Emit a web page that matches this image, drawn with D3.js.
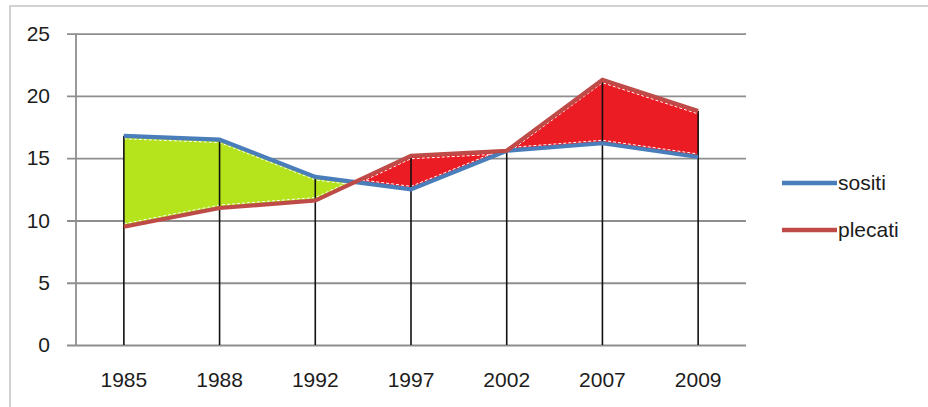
<!DOCTYPE html>
<html>
<head>
<meta charset="utf-8">
<script src="https://cdn.jsdelivr.net/npm/d3@7"></script>
<style>
body { margin: 0; background: #fff; }
text { font-family: "Liberation Sans", Arial, sans-serif; fill: #222; }
</style>
</head>
<body>
<div id="viz"></div>
<script>
var width = 928;
var height = 407;

// data
var years = ["1985", "1988", "1992", "1997", "2002", "2007", "2009"];
var sositi = [16.8, 16.5, 13.5, 12.5, 15.6, 16.2, 15.1];
var plecati = [9.5, 11.0, 11.6, 15.2, 15.6, 21.3, 18.8];
var yTicks = [0, 5, 10, 15, 20, 25];
var seriesNames = ["sositi", "plecati"];

var blue = "#4a7ebb";
var red = "#be4b48";
var green = "#b5e31c";
var fillRed = "#ec1c24";

var svg = d3.select("#viz").append("svg")
   .attr("width", width)
   .attr("height", height);

// outer frame
svg.append("path")
   .attr("d", "M10," + height + "V6H" + width)
   .style("fill", "none")
   .style("stroke", "#c4c4c4")
   .style("stroke-width", 1.5);

var plotL = 76, plotR = 746, plotT = 33.7, plotB = 345;

var x = d3.scaleBand().domain(years).range([plotL, plotR]);
var cx = function(d) { return x(d) + x.bandwidth() / 2; };
var y = d3.scaleLinear().domain([0, 25]).range([plotB, plotT]);

var rows = years.map(function(yr, i) {
   return { year: yr, s: sositi[i], p: plecati[i] };
});

// gridlines + y labels
var gy = svg.append("g")
   .attr("transform", "translate(" + plotR + ",0)")
   .call(d3.axisLeft(y).tickValues(yTicks).tickSize(plotR - 67).tickPadding(17));
gy.select(".domain").remove();
gy.selectAll(".tick line").style("stroke", "#8e8e8e").style("stroke-width", 1.8);
gy.selectAll(".tick text").style("font-size", "21px").style("fill", "#1c1c1c");

// vertical axis line
svg.append("line")
   .attr("x1", plotL).attr("x2", plotL)
   .attr("y1", plotT).attr("y2", plotB)
   .style("stroke", "#8e8e8e")
   .style("stroke-width", 1.8);

// x labels
var gx = svg.append("g")
   .attr("transform", "translate(0," + plotB + ")")
   .call(d3.axisBottom(x).tickSize(0).tickPadding(27));
gx.select(".domain").remove();
gx.selectAll(".tick text").style("font-size", "21px").style("fill", "#1c1c1c");

// difference fills via clip paths
var defs = svg.append("defs");
var belowS = d3.area().x(function(d) { return cx(d.year); }).y0(plotB + 50).y1(function(d) { return y(d.s); });
var belowP = d3.area().x(function(d) { return cx(d.year); }).y0(plotB + 50).y1(function(d) { return y(d.p); });
var aboveS = d3.area().x(function(d) { return cx(d.year); }).y0(0).y1(function(d) { return y(d.s); });
var aboveP = d3.area().x(function(d) { return cx(d.year); }).y0(0).y1(function(d) { return y(d.p); });

defs.append("clipPath").attr("id", "clipBelowS").append("path").attr("d", belowS(rows));
defs.append("clipPath").attr("id", "clipBelowP").append("path").attr("d", belowP(rows));
defs.append("clipPath").attr("id", "clipAboveS").append("path").attr("d", aboveS(rows));
defs.append("clipPath").attr("id", "clipAboveP").append("path").attr("d", aboveP(rows));

var lineS = d3.line().x(function(d) { return cx(d.year); }).y(function(d) { return y(d.s); });
var lineP = d3.line().x(function(d) { return cx(d.year); }).y(function(d) { return y(d.p); });

// green: below sositi and above plecati
var gGreen = svg.append("g").attr("clip-path", "url(#clipBelowS)")
   .append("g").attr("clip-path", "url(#clipAboveP)");
gGreen.append("path").attr("d", aboveP(rows)).style("fill", green);

// red: below plecati and above sositi
var gRed = svg.append("g").attr("clip-path", "url(#clipBelowP)")
   .append("g").attr("clip-path", "url(#clipAboveS)");
gRed.append("path").attr("d", aboveS(rows)).style("fill", fillRed);

// thin white dashed edges inside the fills
[gGreen, gRed].forEach(function(g, k) {
   g.append("path").attr("d", lineS(rows))
      .attr("transform", "translate(0," + (k == 0 ? 3 : -3) + ")")
      .style("fill", "none").style("stroke", "#fff").style("stroke-width", 1)
      .style("stroke-dasharray", "3,2");
   g.append("path").attr("d", lineP(rows))
      .attr("transform", "translate(0," + (k == 0 ? -3 : 3) + ")")
      .style("fill", "none").style("stroke", "#fff").style("stroke-width", 1)
      .style("stroke-dasharray", "3,2");
});

// drop lines
svg.selectAll(".drop")
   .data(rows)
   .enter().append("line")
   .attr("class", "drop")
   .attr("x1", function(d) { return cx(d.year); })
   .attr("x2", function(d) { return cx(d.year); })
   .attr("y1", function(d) { return y(Math.max(d.s, d.p)); })
   .attr("y2", plotB)
   .style("stroke", "#111")
   .style("stroke-width", 1.6);

// series lines
svg.append("path").attr("d", lineS(rows))
   .style("fill", "none").style("stroke", blue).style("stroke-width", 4.2);
svg.append("path").attr("d", lineP(rows))
   .style("fill", "none").style("stroke", red).style("stroke-width", 4.2);

// legend
var legend = svg.selectAll(".legend")
   .data(seriesNames)
   .enter().append("g")
   .attr("class", "legend")
   .attr("transform", function(d, i) { return "translate(782," + (183 + i * 47) + ")"; });
legend.append("line")
   .attr("x1", 0).attr("x2", 55)
   .style("stroke", function(d, i) { return i == 0 ? blue : red; })
   .style("stroke-width", 4.5);
legend.append("text")
   .attr("x", 56)
   .attr("dy", "0.35em")
   .style("font-size", "21px")
   .style("fill", "#1c1c1c")
   .text(function(d) { return d; });
</script>
</body>
</html>
